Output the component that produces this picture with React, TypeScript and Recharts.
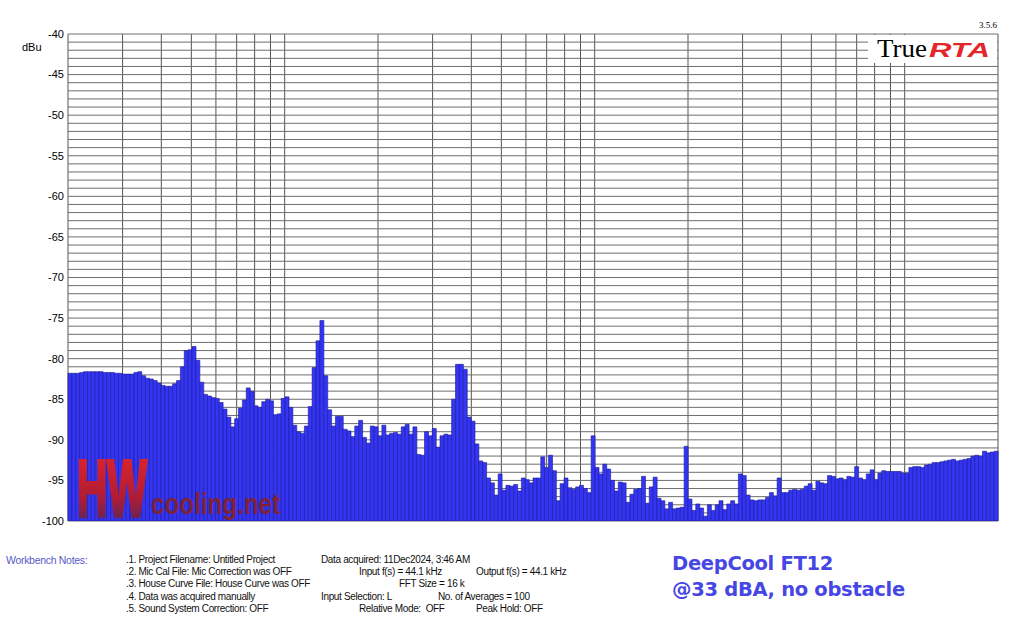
import React from 'react';
import { BarChart, Bar, XAxis, YAxis, CartesianGrid } from 'recharts';

// 1/24-octave band levels (dBu), first band centred on 20 Hz
const levels20to63 = [
  -81.8, -81.8, -81.8, -81.7, -81.6, -81.6, -81.6, -81.6, -81.6, -81.7,
  -81.7, -81.7, -81.8, -81.8, -81.9, -81.9, -81.9, -81.7, -81.6, -82.1,
  -82.4, -82.5, -82.7, -83.0, -83.3, -83.4, -83.4, -83.1, -82.7, -81.0,
  -79.0, -78.9, -78.5, -80.2, -82.9, -84.4, -84.6, -84.8, -84.9, -85.4,
];
const levels63to200 = [
  -86.2, -87.2, -88.4, -87.4, -86.1, -85.1, -83.6, -84.0, -85.8, -86.0,
  -85.3, -85.0, -85.2, -86.9, -86.8, -84.9, -84.7, -86.0, -88.2, -89.0,
  -89.2, -88.3, -85.9, -81.1, -77.8, -75.3, -82.1, -86.3, -88.3, -87.1,
  -87.1, -88.7, -88.9, -89.6, -88.3, -87.6, -89.7, -90.4, -88.3, -88.4,
];
const levels200to630 = [
  -89.5, -88.2, -89.4, -89.2, -89.1, -89.3, -88.4, -88.1, -89.3, -88.4,
  -91.8, -91.9, -89.0, -89.5, -88.6, -90.9, -89.5, -89.3, -89.4, -85.0,
  -80.7, -80.7, -81.3, -87.2, -87.7, -90.5, -92.6, -92.8, -94.7, -95.3,
  -96.8, -94.2, -96.2, -95.6, -95.7, -95.5, -96.3, -94.7, -94.9, -95.3,
];
const levels630to2k = [
  -94.7, -94.7, -92.1, -93.4, -91.9, -93.8, -97.5, -95.4, -94.7, -95.9,
  -96.1, -95.8, -95.6, -96.0, -96.5, -89.5, -93.4, -94.2, -93.0, -93.6,
  -95.0, -96.3, -95.2, -95.3, -97.7, -96.7, -96.1, -96.0, -94.5, -97.8,
  -95.8, -94.6, -97.2, -97.5, -98.5, -97.7, -98.5, -98.4, -98.3, -90.8,
];
const levels2kto6k = [
  -97.3, -98.7, -97.9, -98.4, -99.4, -98.0, -98.7, -98.0, -97.5, -98.6,
  -97.9, -97.5, -97.9, -94.2, -94.4, -96.8, -97.4, -97.5, -97.4, -97.4,
  -97.1, -96.5, -96.9, -94.7, -96.5, -96.5, -96.2, -96.1, -96.2, -96.1,
  -95.7, -95.4, -96.2, -95.1, -95.3, -95.4, -94.4, -94.5, -94.8, -94.7,
];
const levels6kto20k = [
  -94.9, -94.5, -94.6, -93.3, -94.7, -94.9, -94.2, -93.7, -94.9, -94.1,
  -93.8, -93.9, -93.9, -93.9, -93.9, -94.1, -94.1, -93.4, -93.3, -93.3,
  -93.4, -93.1, -93.0, -92.8, -92.8, -92.7, -92.6, -92.5, -92.4, -92.6,
  -92.5, -92.4, -92.3, -92.0, -91.9, -92.0, -91.4, -91.6, -91.5, -91.4,
];

const FLOOR = -100;
const TOP = -40;
const F_MIN = 20;
const F_MAX = 20000;

const gridFreqs = [
  20, 30, 40, 50, 60, 70, 80, 90, 100, 200, 300, 400, 500, 600, 700, 800, 900,
  1000, 2000, 3000, 4000, 5000, 6000, 7000, 8000, 9000, 10000, 20000,
];
const freqLabels: Record<number, string> = {
  20: '20', 50: '50', 100: '100', 200: '200', 500: '500',
  1000: '1kHz', 2000: '2k', 5000: '5k', 10000: '10k', 20000: '20k',
};
const dbLines = Array.from({ length: TOP - FLOOR + 1 }, (_, k) => FLOOR + k);

const notes: [number, string, string][] = [
  [0, 'a', '.1. Project Filename: Untitled Project'],
  [0, 'b', 'Data acquired: 11Dec2024, 3:46 AM'],
  [1, 'a', '.2. Mic Cal File: Mic Correction was OFF'],
  [1, 'c', 'Input f(s) = 44.1 kHz'],
  [1, 'f', 'Output f(s) = 44.1 kHz'],
  [2, 'a', '.3. House Curve File: House Curve was OFF'],
  [2, 'd', 'FFT Size = 16 k'],
  [3, 'a', '.4. Data was acquired manually'],
  [3, 'b', 'Input Selection: L'],
  [3, 'e', 'No. of Averages = 100'],
  [4, 'a', '.5. Sound System Correction: OFF'],
  [4, 'c', 'Relative Mode:  OFF'],
  [4, 'f', 'Peak Hold: OFF'],
];
const noteCol: Record<string, number> = { a: 126, b: 321, c: 359, d: 399, e: 438, f: 476 };

const rows = [
  ...levels20to63, ...levels63to200, ...levels200to630,
  ...levels630to2k, ...levels2kto6k, ...levels6kto20k,
].map((level, i) => ({ band: i, level, span: [FLOOR, level] }));

const sans = '"Liberation Sans", Arial, sans-serif';

// vertical grid lines at the log frequency positions inside the plot box
const freqGrid = ({ xAxis, offset }: any) =>
  gridFreqs.map((f) => {
    if (typeof xAxis?.scale === 'function') {
      const px = xAxis.scale(f);
      if (Number.isFinite(px)) return px;
    }
    return offset.left + (offset.width * Math.log10(f / F_MIN)) / Math.log10(F_MAX / F_MIN);
  });

const App: React.FC = () => (
  <div style={{ position: 'absolute', left: 0, top: 0, width: 1024, height: 624, background: '#fff', fontFamily: sans }}>
    <BarChart
      width={1024}
      height={560}
      data={rows}
      margin={{ top: 34, right: 26, bottom: 9, left: 8 }}
      barCategoryGap={0}
    >
      <CartesianGrid horizontal={false} stroke="#555" strokeWidth={1} verticalCoordinatesGenerator={freqGrid} />
      <CartesianGrid vertical={false} stroke="#6e6e6e" strokeWidth={1} />
      <XAxis xAxisId="bands" dataKey="band" type="category" hide />
      <XAxis
        type="number"
        scale="log"
        domain={[F_MIN, F_MAX]}
        allowDataOverflow
        ticks={gridFreqs}
        interval={0}
        tickFormatter={(f: number) => freqLabels[f] ?? ''}
        axisLine={false}
        tickLine={false}
        tickSize={4}
        tickMargin={4}
        height={30}
        tick={{ fill: '#000', fontSize: 11, fontFamily: sans }}
      />
      <YAxis
        domain={[FLOOR, TOP]}
        ticks={dbLines}
        interval={0}
        allowDataOverflow
        tickFormatter={(v: number) => (v % 5 === 0 ? String(v) : '')}
        axisLine={false}
        tickLine={false}
        tickSize={2}
        tickMargin={2}
        width={60}
        tick={{ fill: '#000', fontSize: 11, fontFamily: sans }}
      />
      <Bar
        xAxisId="bands"
        dataKey="span"
        fill="#3434f4"
        stroke="#1c1c96"
        strokeWidth={0.6}
        isAnimationActive={false}
      />
    </BarChart>

    <div style={{ position: 'absolute', left: 22, top: 41, fontSize: 11, color: '#000' }}>dBu</div>

    <svg width={1024} height={624} style={{ position: 'absolute', left: 0, top: 0, pointerEvents: 'none' }}>
      <defs>
        <linearGradient id="hwGrad" x1="0" y1="0" x2="0" y2="1">
          <stop offset="0%" stopColor="#e8262a" />
          <stop offset="60%" stopColor="#b01c34" />
          <stop offset="100%" stopColor="#3a2a6a" />
        </linearGradient>
      </defs>
      <text transform="translate(77,516) scale(1,1.9)" fontFamily={sans} fontWeight="bold" fontSize={42}
        fill="url(#hwGrad)" stroke="url(#hwGrad)" strokeWidth={2}>HW</text>
      <text x={151} y={514} fontFamily={sans} fontWeight="bold" fontSize={29}
        textLength={129} lengthAdjust="spacingAndGlyphs" fill="#7e2238">cooling.net</text>

      <rect x={868} y={35} width={129} height={28} fill="#fff" />
      <text x={877} y={57} fontFamily='"Liberation Serif", serif' fontSize={25} textLength={50}
        lengthAdjust="spacingAndGlyphs" fill="#000">True</text>
      <text x={929} y={57} fontFamily={sans} fontWeight="bold" fontStyle="italic" fontSize={21}
        textLength={61} lengthAdjust="spacingAndGlyphs" fill="#e3262b">RTA</text>
      <text x={997} y={28} textAnchor="end" fontFamily='"Liberation Serif", serif' fontSize={9} fill="#000">3.5.6</text>
    </svg>

    <div style={{ position: 'absolute', left: 6, top: 554, fontSize: 10.5, color: '#5a5ac8', letterSpacing: -0.3 }}>
      Workbench Notes:
    </div>
    {notes.map(([row, col, text]) => (
      <div
        key={row + col}
        style={{
          position: 'absolute', left: noteCol[col], top: 554 + row * 12.2, fontSize: 10,
          color: '#111', letterSpacing: -0.35, whiteSpace: 'pre',
        }}
      >
        {text}
      </div>
    ))}

    <div style={{
      position: 'absolute', left: 672, top: 551, fontFamily: '"DejaVu Sans", Verdana, sans-serif',
      fontWeight: 'bold', fontSize: 19.5, lineHeight: '26px', color: '#4646e4', letterSpacing: -0.3,
    }}>
      <div>DeepCool FT12</div>
      <div>@33 dBA, no obstacle</div>
    </div>
  </div>
);

export default App;
